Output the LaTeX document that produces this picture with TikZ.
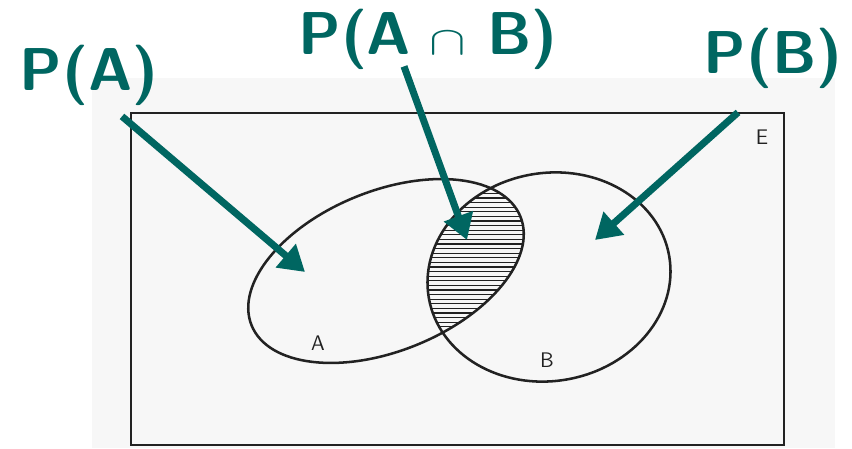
\documentclass[tikz,border=0pt]{standalone}
\usepackage{graphicx}
\usetikzlibrary{arrows.meta}
\definecolor{pteal}{HTML}{006661}
\definecolor{ink}{HTML}{222222}
\definecolor{scan}{HTML}{F7F7F7}

\begin{document}
\begin{tikzpicture}[x=0.025cm, y=0.025cm, every node/.style={inner sep=0pt}, lbl/.style={font=\sffamily\bfseries\fontsize{43}{48}\selectfont,text=pteal,anchor=base}, tag/.style={font=\sffamily\fontsize{15}{17}\selectfont,text=ink}, set/.style={draw=ink,line width=1.8pt}, arr/.style={-{Triangle[length=18pt,width=21pt]},line width=5pt,draw=pteal}]
\useasboundingbox (0,0) rectangle (852,448);
\fill[scan] (92,0) rectangle (835,370);
\draw[ink,line width=1.4pt] (131,3) rectangle (784,335);
% hatched intersection
\begin{scope}
\clip[rotate around={22:(386,177)}] (386,177) ellipse (145 and 80);
\clip[rotate around={10:(549,171)}] (549,171) ellipse (122 and 104);
\foreach \y in {112,116.6,...,270} \draw[ink,line width=0.9pt] (400,\y) -- (570,\y);
\end{scope}
\draw[set,rotate around={22:(386,177)}] (386,177) ellipse (145 and 80);
\draw[set,rotate around={10:(549,171)}] (549,171) ellipse (122 and 104);
\node[tag] (e) at (762,311) {E};
\node[tag] (a) at (318,105) {A};
\node[tag] (b) at (547,88) {B};
\node[lbl] (pa) at (89,357) {P(A)};
\node[lbl] (pab) at (428,393) {P(A\hspace{13pt}\resizebox{26pt}{16pt}{$\cap$}\hspace{15pt}B)};
\node[lbl] (pb) at (773,374) {P(B)};
\coordinate (tipa) at (305,176);
\coordinate (tipab) at (467,208);
\coordinate (tipb) at (595,208);
\draw[arr] ([shift={(33,-10)}]pa.south) -- (tipa);
\draw[arr] ([shift={(-24,4)}]pab.south) -- (tipab);
\draw[arr] ([shift={(-35,-23)}]pb.south) -- (tipb);
\end{tikzpicture}
\end{document}
